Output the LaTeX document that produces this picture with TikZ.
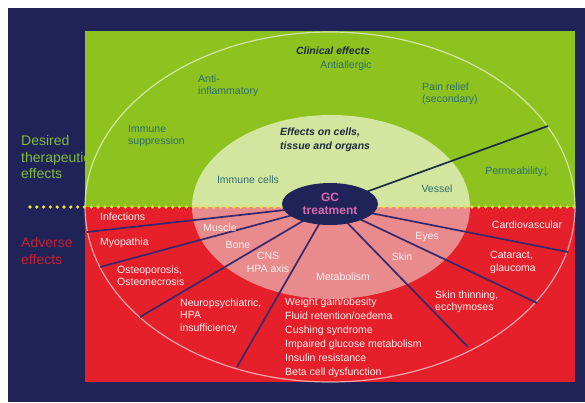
\documentclass[tikz,border=0pt]{standalone}
\usepackage{fontspec}
\setmainfont{Liberation Sans}
\usetikzlibrary{shapes.geometric}
\definecolor{navy}{HTML}{1F2357}
\definecolor{lime}{HTML}{8DC21F}
\definecolor{redbg}{HTML}{E5202A}
\definecolor{palegreen}{HTML}{D3E6A0}
\definecolor{pinkin}{HTML}{E98A8C}
\definecolor{raycol}{HTML}{35296E}
\definecolor{rayup}{HTML}{1D2B45}
\definecolor{greentext}{HTML}{2E6E6C}
\definecolor{darktext}{HTML}{1C2A3A}
\definecolor{gctext}{HTML}{D86AAE}
\definecolor{desired}{HTML}{86B83C}
\definecolor{adverse}{HTML}{C8202E}
\definecolor{dotcol}{HTML}{F2E04A}
\definecolor{whitetext}{HTML}{FFF0F0}
\begin{document}
\begin{tikzpicture}[x=1pt,y=-1pt,
  lbl/.style={font=\fontsize{10.5}{12.5}\selectfont, inner sep=0pt, align=left},
  gtxt/.style={lbl, text=greentext},
  wtxt/.style={lbl, text=whitetext},
  headtxt/.style={lbl, font=\fontsize{10.5}{14}\selectfont\bfseries\itshape, text=darktext},
  sidetxt/.style={lbl, font=\fontsize{14}{16.5}\selectfont},
  ray/.style={draw=raycol, line width=1.7pt},
  outerline/.style={draw=white, draw opacity=0.6, line width=1.2pt}]
\useasboundingbox (0,0) rectangle (585,402);
\fill[white] (0,0) rectangle (585,402);
\fill[navy] (8,8) rectangle (585,402);
\fill[lime] (85,31) rectangle (575,207);
\fill[redbg] (85,207) rectangle (575,382);
% inner ellipse
\begin{scope}
  \clip (0,0) rectangle (585,207);
  \fill[palegreen] (331,207) ellipse [x radius=139, y radius=92];
\end{scope}
\begin{scope}
  \clip (0,207) rectangle (585,402);
  \fill[pinkin] (331,207) ellipse [x radius=139, y radius=92];
\end{scope}
% outer ellipse
\draw[outerline] (330,207) ellipse [x radius=245, y radius=175];
% ray end points
\coordinate (u1) at (548,126);
\coordinate (e1) at (87,232);
\coordinate (e2) at (100,267);
\coordinate (e3) at (140,317);
\coordinate (e4) at (237,367);
\coordinate (e6) at (468,347);
\coordinate (e7) at (537,303);
\coordinate (e8) at (568,252);
\coordinate (ctr) at (330,205);
\draw[ray, draw=rayup] (ctr) -- (u1);
\foreach \e in {e1,e2,e3,e4,e6,e7,e8} \draw[ray] (ctr) -- (\e);
% dotted separator
\coordinate (dl) at (30,207);
\coordinate (dr) at (580,207);
\draw[dotcol, line width=3.6pt, line cap=round, dash pattern=on 0pt off 6.8pt] (dl) -- (dr);
% GC node
\node[ellipse, fill=navy, minimum width=96pt, minimum height=42pt, inner sep=0pt,
  text=gctext, align=center, font=\fontsize{12}{13.5}\selectfont\bfseries] (gc) at (330,204) {GC\\treatment};
% side labels
\node[sidetxt, text=desired, anchor=west] (desired) at (21,157) {Desired\\therapeutic\\effects};
\node[sidetxt, text=adverse, anchor=west] (adverse) at (21,251) {Adverse\\effects};
% clinical effects
\node[headtxt] (clin) at (333,51) {Clinical effects};
\node[gtxt, anchor=west] (anti) at (198,86) {Anti-\\inflammatory};
\node[gtxt] (allerg) at (346,66) {Antiallergic};
\node[gtxt, anchor=west] (pain) at (422,94) {Pain relief\\(secondary)};
\node[gtxt, anchor=west] (immsup) at (128,136) {Immune\\suppression};
\node[gtxt] (perm) at (517,172) {Permeability$\downarrow$};
% cells, tissue and organs
\node[headtxt, anchor=west] (eff) at (280,140) {Effects on cells,\\tissue and organs};
\node[gtxt] (immc) at (248,180) {Immune cells};
\node[gtxt] (vessel) at (437,189) {Vessel};
\node[wtxt] (muscle) at (220,228) {Muscle};
\node[wtxt] (bone) at (238,245) {Bone};
\node[wtxt, align=center] (cns) at (268,262.5) {CNS\\HPA axis};
\node[wtxt] (metab) at (343,277) {Metabolism};
\node[wtxt] (skin) at (402,257) {Skin};
\node[wtxt] (eyes) at (427,237) {Eyes};
% adverse effects
\node[wtxt, anchor=west] (infect) at (100,217) {Infections};
\node[wtxt, anchor=west] (myo) at (100,243) {Myopathia};
\node[wtxt, anchor=west] (osteo) at (117,275.5) {Osteoporosis,\\Osteonecrosis};
\node[wtxt, anchor=west] (neuro) at (180,316) {Neuropsychiatric,\\HPA\\insufficiency};
\node[wtxt, anchor=west, font=\fontsize{10.5}{14}\selectfont] (metlist) at (285,338) {Weight gain/obesity\\Fluid retention/oedema\\Cushing syndrome\\Impaired glucose metabolism\\Insulin resistance\\Beta cell dysfunction};
\node[wtxt, anchor=west] (skinthin) at (435,302) {Skin thinning,\\ecchymoses};
\node[wtxt, anchor=west] (cat) at (490,262.5) {Cataract,\\glaucoma};
\node[wtxt] (cardio) at (527,225) {Cardiovascular};
\end{tikzpicture}
\end{document}
